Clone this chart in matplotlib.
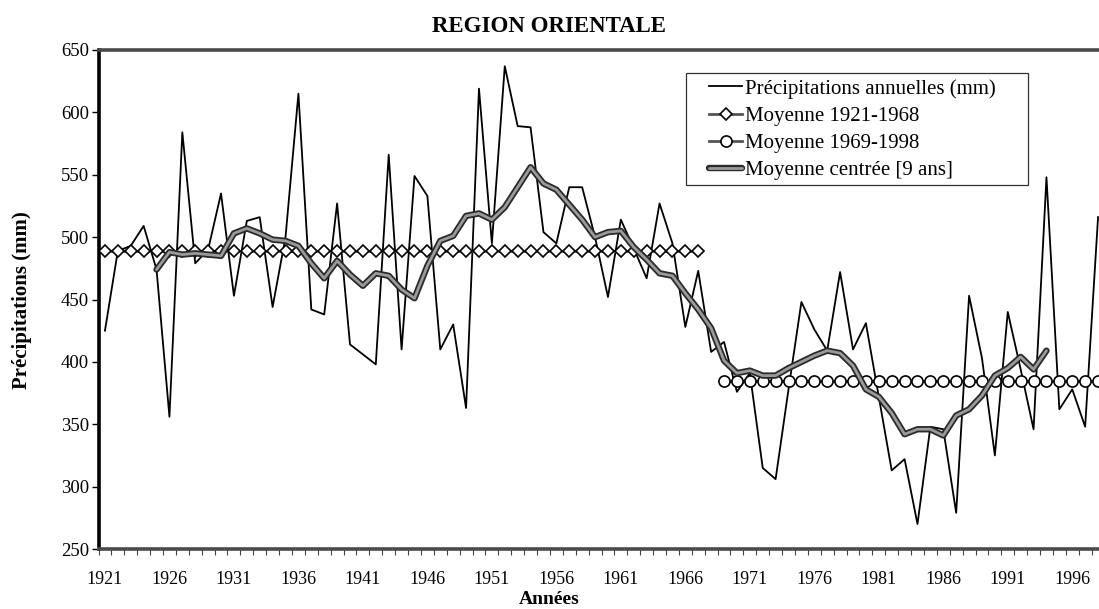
import numpy as np
import matplotlib
matplotlib.use("Agg")
import matplotlib.pyplot as plt
import matplotlib.patheffects as pe
from matplotlib.patches import Rectangle

# ---------------- data ----------------
years = list(range(1921, 1999))
annual = [425, 489, 493, 509, 474, 356, 584, 479, 490, 535,
          453, 513, 516, 444, 500, 615, 442, 438, 527, 414,
          406, 398, 566, 410, 549, 533, 410, 430, 363, 619,
          495, 637, 589, 588, 504, 495, 540, 540, 500, 452,
          514, 491, 467, 527, 495, 428, 473, 408, 416, 376,
          391, 315, 306, 378, 448, 426, 409, 472, 410, 431,
          372, 313, 322, 270, 348, 346, 279, 453, 403, 325,
          440, 394, 346, 548, 362, 378, 348, 516]

mean1_years = list(range(1921, 1968))
mean1_value = 489
mean2_years = list(range(1969, 1999))
mean2_value = 385

ma_years = list(range(1925, 1995))
moving_avg = [474, 488, 486, 487, 486, 485, 503, 507, 503, 498,
              497, 493, 479, 467, 481, 470, 461, 471, 469, 458,
              451, 477, 497, 501, 517, 519, 514, 524, 540, 556,
              543, 538, 526, 514, 500, 504, 505, 492, 482, 471,
              469, 455, 442, 427, 401, 391, 393, 389, 389, 395,
              400, 405, 409, 407, 397, 378, 372, 359, 342, 346,
              346, 341, 357, 362, 373, 389, 395, 404, 394, 409]

label_years = [str(y) for y in range(1921, 1997, 5)]
y_ticks = [250, 300, 350, 400, 450, 500, 550, 600, 650]

title = "REGION ORIENTALE"
xlabel = "Années"
ylabel = "Précipitations (mm)"
legend_labels = ["Précipitations annuelles (mm)", "Moyenne 1921-1968",
                 "Moyenne 1969-1998", "Moyenne centrée [9 ans]"]

# ---------------- figure ----------------
plt.rcParams['font.family'] = ['Liberation Serif', 'DejaVu Serif']
W, H = 1099, 609
fig = plt.figure(figsize=(W / 100, H / 100), dpi=100)
ax_left, ax_right, ax_top, ax_bottom = 98.5, 1104.5, 50, 549
ax = fig.add_axes([ax_left / W, 1 - ax_bottom / H,
                   (ax_right - ax_left) / W, (ax_bottom - ax_top) / H])

l1, = ax.plot(years, annual, color='black', lw=1.3, zorder=3)
l2, = ax.plot(mean1_years, [mean1_value] * len(mean1_years), color='#555555',
              lw=2.0, marker='D', markersize=6, markerfacecolor='white',
              markeredgecolor='black', markeredgewidth=1.2, zorder=4)
l3, = ax.plot(mean2_years, [mean2_value] * len(mean2_years), color='#555555',
              lw=2.0, marker='o', markersize=8, markerfacecolor='white',
              markeredgecolor='black', markeredgewidth=1.2, zorder=4)
l4, = ax.plot(ma_years, moving_avg, color='#9a9a9a', lw=2.0, zorder=5,
              solid_joinstyle='round', solid_capstyle='round',
              path_effects=[pe.Stroke(linewidth=4.6, foreground='#2a2a2a'),
                            pe.Normal()])

ax.set_xlim(1920.5, 1998.5)
ax.set_ylim(250, 650)
ax.set_yticks(y_ticks)
ax.set_yticklabels([str(v) for v in y_ticks], fontsize=13.5)
ax.tick_params(axis='y', direction='out', length=5, width=1, pad=2)

ax.set_xticks([int(y) for y in label_years])
ax.set_xticklabels(label_years, fontsize=13)
ax.set_xticks(np.arange(1920.5, 1999, 1.0), minor=True)
ax.tick_params(axis='x', which='major', length=0, pad=16)
ax.tick_params(axis='x', which='minor', direction='out', length=4, width=0.8,
               color='#444444')

ax.spines['left'].set_linewidth(2.6)
ax.spines['left'].set_color('black')
for side in ['top', 'bottom']:
    ax.spines[side].set_linewidth(2.6)
    ax.spines[side].set_color('#4a4a4a')
ax.spines['right'].set_visible(False)

fig.text(0.5, 1 - 27 / H, title, ha='center', va='center',
         fontsize=16.5, fontweight='bold')
fig.text(0.5, 1 - 599 / H, xlabel, ha='center', va='center',
         fontsize=14, fontweight='bold')
fig.text(22 / W, 1 - 300 / H, ylabel, ha='center', va='center',
         rotation=90, fontsize=15, fontweight='bold')

# legend frame drawn explicitly, entries placed inside it
box_l, box_t, box_r, box_b = 686, 73, 1028, 185
fig.patches.append(Rectangle((box_l / W, 1 - box_b / H),
                             (box_r - box_l) / W, (box_b - box_t) / H,
                             transform=fig.transFigure, facecolor='white',
                             edgecolor='#333333', linewidth=0.9, zorder=10))
leg = fig.legend([l1, l2, l3, l4], legend_labels, loc='upper left',
                 bbox_to_anchor=(709 / W, 1 - 79 / H),
                 bbox_transform=fig.transFigure, fontsize=15,
                 frameon=False, borderpad=0, handlelength=1.6,
                 handletextpad=0.15, labelspacing=0.36, borderaxespad=0)
leg.set_zorder(11)

fig.savefig('out.png', dpi=100)
